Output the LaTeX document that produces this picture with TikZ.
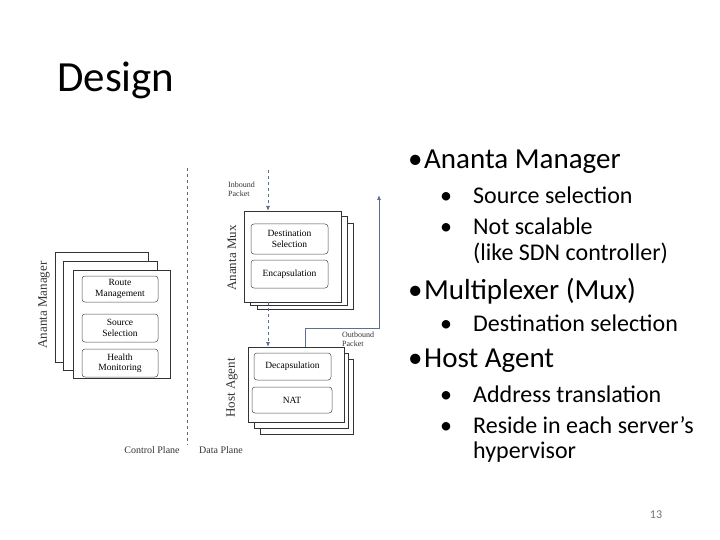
\documentclass[tikz,border=0pt]{standalone}
\usepackage{fontspec}
\setmainfont{Carlito}
\newfontfamily\serifd{Liberation Serif}
\usetikzlibrary{arrows.meta}
\definecolor{arrc}{RGB}{90,110,150}
\begin{document}
\begin{tikzpicture}[x=1pt,y=-1pt,
 frame/.style={draw=black!80,fill=white,line width=0.8pt},
 inner/.style={draw=black!70,rounded corners=3pt,line width=0.5pt,align=center,font=\serifd\fontsize{9.5}{10.5}\selectfont,inner sep=0pt},
 lab/.style={font=\serifd\fontsize{8}{9}\selectfont,align=left,text=black!80},
 side/.style={font=\serifd\fontsize{13}{14}\selectfont,rotate=90,text=black!80},
 arr/.style={-{Latex[length=5pt,width=4pt]},draw=arrc,line width=0.8pt},
 b1/.style={anchor=west,font=\fontsize{29}{32}\selectfont,inner sep=0pt},
 b2/.style={anchor=west,font=\fontsize{24}{28}\selectfont,inner sep=0pt,align=left}]
\useasboundingbox (0,0) rectangle (720,540);
\node[anchor=west,font=\fontsize{43}{47}\selectfont,inner sep=0pt] (title) at (57,80) {Design};
% manager
\draw[frame] (55,252) rectangle (148,362);
\draw[frame] (63,261) rectangle (157,370);
\draw[frame] (73,270) rectangle (170,378);
\node[inner,minimum width=76pt,minimum height=26pt] (rm) at (120,289) {Route\\Management};
\node[inner,minimum width=76pt,minimum height=28pt] (ss) at (120,328) {Source\\Selection};
\node[inner,minimum width=76pt,minimum height=28pt] (hm) at (120,363) {Health\\Monitoring};
\node[side] (amlab) at (44,305) {Ananta Manager};
% divider
\draw[dashed,black!60,line width=0.5pt] (187,168) -- (187,445);
\node[font=\serifd\fontsize{10}{11}\selectfont,text=black!80] (cp) at (152,450) {Control Plane};
\node[font=\serifd\fontsize{10}{11}\selectfont,text=black!80] (dp) at (221,450) {Data Plane};
% mux
\draw[frame] (257,223) rectangle (353,309);
\draw[frame] (250,216) rectangle (347,305);
\draw[frame] (244,211) rectangle (341,302);
\node[inner,minimum width=77pt,minimum height=30pt] (ds) at (289.5,239) {Destination\\Selection};
\node[inner,minimum width=77pt,minimum height=28pt] (en) at (289.5,274) {Encapsulation};
\node[side] (mxlab) at (232,258) {Ananta Mux};
\node[lab,anchor=north west,inner sep=0pt] (ib) at (228,182) {Inbound\\Packet};
\coordinate (ibt) at (268,170);
\coordinate (mxt) at (268,211);
\coordinate (mxb) at (268,302);
\coordinate (hat) at (268,347);
\draw[arr,dashed] (ibt) -- (mxt);
\draw[arr,dashed] (mxb) -- (hat);
% host
\draw[frame] (260,359) rectangle (353,434);
\draw[frame] (254,353) rectangle (348,428);
\draw[frame] (248,347) rectangle (344,422);
\node[inner,minimum width=77pt,minimum height=27pt] (dc) at (292.5,366.5) {Decapsulation};
\node[inner,minimum width=80pt,minimum height=26pt] (nat) at (292,400) {NAT};
\node[side] (halab) at (232,388) {Host Agent};
\coordinate (ob0) at (305,347);
\coordinate (ob1) at (379,195);
\draw[arr] (ob0) |- (379,328) -- (ob1);
\node[lab,anchor=north west,inner sep=0pt] (obl) at (342,332) {Outbound\\Packet};
% bullets
\node[b1] (a1) at (408,162) {\makebox[16pt][l]{\textbullet}Ananta Manager};
\node[b2] (a2) at (440,195) {\makebox[33pt][l]{\textbullet}Source selection};
\node[b2] (a3) at (440,226) {\makebox[33pt][l]{\textbullet}Not scalable};
\node[b2] (a4) at (473,253) {(like SDN controller)};
\node[b1] (b1n) at (408,291) {\makebox[16pt][l]{\textbullet}Multiplexer (Mux)};
\node[b2] (b2n) at (440,323) {\makebox[33pt][l]{\textbullet}Destination selection};
\node[b1] (c1) at (408,361) {\makebox[16pt][l]{\textbullet}Host Agent};
\node[b2] (c2) at (440,394) {\makebox[33pt][l]{\textbullet}Address translation};
\node[b2] (c3) at (440,425) {\makebox[33pt][l]{\textbullet}Reside in each server’s};
\node[b2] (c4) at (473,452) {hypervisor};
\node[font=\fontsize{12}{14}\selectfont,text=black!55] (pg) at (656,515) {13};
\end{tikzpicture}
\end{document}
